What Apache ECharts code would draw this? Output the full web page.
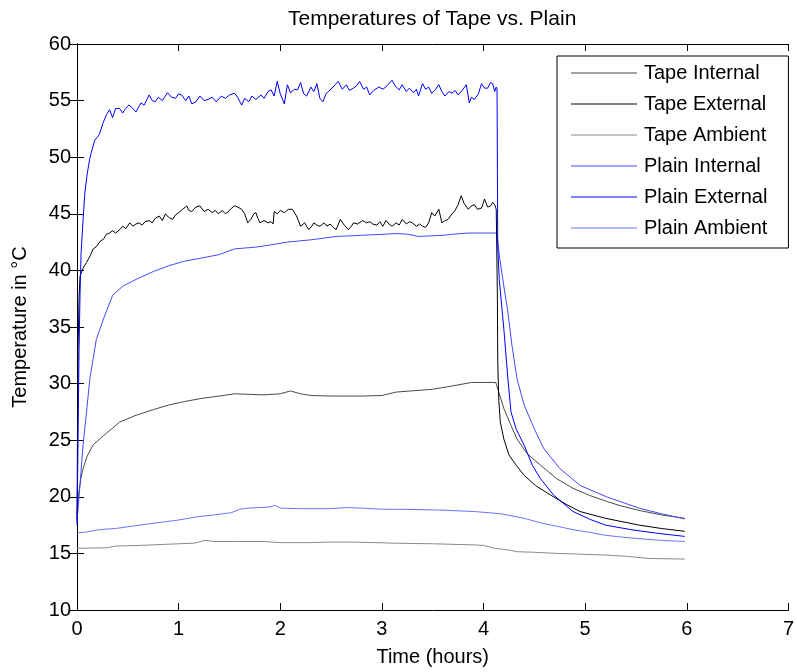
<!DOCTYPE html>
<html>
<head>
<meta charset="utf-8">
<script src="https://cdn.jsdelivr.net/npm/echarts@6/dist/echarts.min.js"></script>
<style>
html,body{margin:0;padding:0;background:#fff;}
#chart{width:797px;height:672px;}
</style>
</head>
<body>
<div id="chart"></div>
<script>
// ---- data (time in hours, temperature in °C) ----
const seriesNames = ['Tape Internal','Tape External','Tape Ambient','Plain Internal','Plain External','Plain Ambient'];
const xTicks = [0,1,2,3,4,5,6,7];
const yTicks = [10,15,20,25,30,35,40,45,50,55,60];

const tapeInternal = [
 [0,18.5],[0.02,20.5],[0.04,21.7],[0.06,22.5],[0.1,23.6],[0.16,24.6],[0.26,25.4],[0.42,26.6],[0.58,27.2],[0.75,27.7],
 [0.9,28.1],[1.05,28.4],[1.23,28.7],[1.4,28.9],[1.55,29.1],[1.7,29.05],[1.84,29.0],[2.0,29.1],[2.1,29.35],[2.2,29.1],
 [2.3,28.95],[2.5,28.9],[2.8,28.9],[3.0,28.95],[3.14,29.25],[3.5,29.5],[3.7,29.8],[3.88,30.1],[4.12,30.1],[4.13,30.1],
 [4.155,29.1],[4.2,27.8],[4.27,26.3],[4.33,25.1],[4.43,23.8],[4.56,22.8],[4.72,21.6],[4.88,20.75],[5.05,20.1],[5.21,19.6],
 [5.35,19.2],[5.53,18.8],[5.75,18.4],[5.98,18.1]
];

const tapeExternal = [
 [0,18],[0.01,33],[0.02,37.5],[0.03,39.5],[0.06,40.2],[0.094,40.7],[0.13,41.3],[0.16,41.9],[0.19,42.1],[0.23,42.6],
 [0.26,42.75],[0.29,43.2],[0.32,43.3],[0.35,43.5],[0.38,43.3],[0.42,43.6],[0.45,43.9],[0.48,43.7],[0.52,44.2],[0.55,43.9],
 [0.58,44.1],[0.61,44.2],[0.64,44.0],[0.67,44.3],[0.71,44.4],[0.74,44.2],[0.77,44.6],[0.81,44.8],[0.84,44.4],[0.87,45.0],
 [0.90,44.7],[0.94,44.5],[0.97,44.9],[1.00,45.1],[1.04,45.4],[1.08,45.7],[1.10,45.3],[1.13,45.2],[1.17,45.6],[1.21,45.7],
 [1.25,45.2],[1.29,45.4],[1.33,45.1],[1.36,45.3],[1.39,45.0],[1.43,45.3],[1.46,45.0],[1.49,45.2],[1.52,45.5],[1.55,45.7],
 [1.58,45.6],[1.62,45.4],[1.65,45.0],[1.68,44.2],[1.71,44.5],[1.74,45.0],[1.76,45.1],[1.78,44.6],[1.80,44.2],[1.84,44.4],
 [1.88,44.2],[1.91,44.3],[1.93,44.1],[1.94,45.2],[1.97,45.0],[2.00,45.3],[2.04,45.1],[2.08,45.4],[2.12,45.4],[2.16,44.8],
 [2.20,43.9],[2.24,44.2],[2.28,43.6],[2.31,43.9],[2.33,44.2],[2.36,44.0],[2.39,43.9],[2.43,44.2],[2.46,43.9],[2.49,44.1],
 [2.52,43.8],[2.55,43.6],[2.59,44.5],[2.63,44.0],[2.67,43.6],[2.70,43.9],[2.72,44.2],[2.76,44.1],[2.81,44.4],[2.85,44.2],
 [2.88,44.3],[2.91,44.1],[2.95,44.0],[2.98,44.3],[3.01,43.9],[3.04,44.4],[3.07,44.1],[3.10,43.9],[3.14,44.2],[3.17,44.0],
 [3.20,44.5],[3.24,44.1],[3.27,44.3],[3.30,44.2],[3.34,43.9],[3.37,44.1],[3.40,43.9],[3.43,43.8],[3.46,44.2],[3.49,45.1],
 [3.52,44.8],[3.56,45.4],[3.59,44.2],[3.62,44.4],[3.65,44.5],[3.69,45.0],[3.72,45.3],[3.75,45.8],[3.78,46.6],[3.81,45.9],
 [3.85,45.4],[3.88,45.7],[3.91,45.8],[3.94,45.4],[3.98,45.5],[4.01,46.3],[4.04,45.6],[4.07,45.7],[4.09,46.0],[4.11,45.8],
 [4.125,45.4],[4.133,45.4],[4.136,38],[4.14,32],[4.15,28.5],[4.165,26.6],[4.2,25.1],[4.25,23.7],[4.32,22.8],[4.40,21.9],
 [4.51,21.0],[4.66,20.15],[4.82,19.3],[4.95,18.7],[5.2,18.1],[5.53,17.5],[5.75,17.2],[5.98,16.95]
];

const tapeAmbient = [
 [0,15.45],[0.3,15.5],[0.38,15.65],[0.6,15.7],[0.87,15.8],[1.0,15.85],[1.15,15.9],[1.26,16.15],[1.35,16.05],[1.6,16.05],
 [1.84,16.05],[2.0,15.95],[2.3,15.95],[2.49,16.0],[2.7,16.0],[2.95,15.95],[3.14,15.9],[3.5,15.85],[3.91,15.75],[4.0,15.7],
 [4.11,15.45],[4.25,15.3],[4.33,15.15],[4.5,15.1],[4.72,15.0],[4.9,14.95],[5.2,14.85],[5.4,14.75],[5.63,14.55],[5.98,14.5]
];

const plainInternal = [
 [0,17.8],[0.02,20],[0.04,22.3],[0.06,24.6],[0.094,27.5],[0.126,30.4],[0.19,33.9],[0.26,35.7],[0.35,37.8],[0.45,38.6],
 [0.58,39.2],[0.75,39.9],[0.9,40.4],[1.05,40.8],[1.23,41.1],[1.4,41.4],[1.55,41.9],[1.75,42.05],[1.87,42.2],[2.07,42.5],
 [2.3,42.7],[2.55,43.0],[2.8,43.1],[3.14,43.25],[3.25,43.2],[3.36,43.0],[3.6,43.1],[3.7,43.2],[3.85,43.3],[4.13,43.3],
 [4.16,41],[4.2,38.6],[4.24,36.3],[4.28,33.35],[4.33,30.4],[4.40,28.1],[4.50,26.0],[4.59,24.3],[4.75,22.5],[4.95,21.0],
 [5.21,20.0],[5.53,19.0],[5.75,18.5],[5.98,18.05]
];

const plainExternal = [
 [0,17.5],[0.01,25],[0.02,33],[0.03,38],[0.04,41.5],[0.06,44.5],[0.078,46.9],[0.1,48.5],[0.126,49.9],[0.14,50.4],
 [0.175,51.5],[0.22,52.0],[0.255,53.0],[0.29,53.75],[0.32,54.2],[0.35,53.5],[0.38,54.3],[0.42,54.3],[0.45,53.9],[0.47,54.2],
 [0.51,54.6],[0.54,54.4],[0.58,54.0],[0.63,54.8],[0.66,54.6],[0.71,55.5],[0.74,55.0],[0.77,54.9],[0.80,55.3],[0.84,55.0],
 [0.89,55.7],[0.93,55.3],[0.97,55.2],[1.00,55.6],[1.03,55.5],[1.07,55.0],[1.10,55.4],[1.13,54.7],[1.17,54.9],[1.21,55.4],
 [1.25,55.0],[1.29,55.1],[1.33,55.3],[1.37,54.9],[1.42,55.4],[1.46,55.2],[1.50,55.5],[1.55,55.65],[1.58,55.3],[1.62,54.6],
 [1.65,55.2],[1.69,54.9],[1.72,55.4],[1.76,55.1],[1.81,55.5],[1.84,55.2],[1.88,55.8],[1.91,55.95],[1.94,55.4],[1.97,56.7],
 [2.00,55.6],[2.04,54.7],[2.07,56.4],[2.10,55.7],[2.14,56.0],[2.17,55.95],[2.20,56.6],[2.23,55.6],[2.26,55.4],[2.30,56.2],
 [2.33,55.8],[2.36,56.5],[2.39,55.2],[2.42,54.9],[2.45,55.6],[2.49,55.95],[2.53,56.3],[2.57,56.7],[2.61,56.0],[2.65,56.4],
 [2.68,55.9],[2.72,56.1],[2.75,56.3],[2.78,56.7],[2.82,56.0],[2.85,56.2],[2.88,55.5],[2.92,55.9],[2.97,56.2],[3.01,56.0],
 [3.05,56.3],[3.10,56.8],[3.13,56.3],[3.17,55.95],[3.20,56.4],[3.24,55.8],[3.27,56.1],[3.31,55.7],[3.34,56.0],[3.36,55.4],
 [3.40,56.5],[3.43,56.0],[3.46,56.2],[3.49,55.65],[3.52,55.9],[3.56,56.4],[3.59,55.8],[3.62,55.4],[3.66,55.8],[3.69,55.65],
 [3.72,55.9],[3.75,55.5],[3.79,55.9],[3.83,56.4],[3.86,54.8],[3.88,55.3],[3.91,55.1],[3.95,55.6],[3.98,56.5],[4.01,56.1],
 [4.04,56.1],[4.07,56.6],[4.09,56.5],[4.11,55.8],[4.125,56.2],[4.133,56.0],[4.14,42],[4.155,39.2],[4.2,34.8],[4.24,30.4],
 [4.27,27.5],[4.32,26.0],[4.40,24.55],[4.48,22.8],[4.56,21.6],[4.69,20.15],[4.88,18.7],[5.05,18.0],[5.2,17.5],[5.45,17.1],
 [5.69,16.8],[5.98,16.5]
];

const plainAmbient = [
 [0,16.8],[0.1,16.9],[0.22,17.1],[0.38,17.2],[0.54,17.4],[0.7,17.6],[0.87,17.8],[1.0,17.95],[1.19,18.25],[1.35,18.4],
 [1.52,18.6],[1.6,18.9],[1.68,19.0],[1.8,19.05],[1.9,19.1],[1.95,19.25],[2.0,19.0],[2.2,18.95],[2.49,18.95],[2.65,19.05],
 [2.8,19.0],[3.0,18.9],[3.14,18.9],[3.5,18.85],[3.91,18.7],[4.17,18.5],[4.4,18.1],[4.56,17.7],[4.72,17.4],[4.88,17.1],
 [5.05,16.85],[5.2,16.6],[5.35,16.45],[5.53,16.3],[5.75,16.15],[5.98,16.05]
];

const seriesData = [tapeInternal, tapeExternal, tapeAmbient, plainInternal, plainExternal, plainAmbient];
const seriesColors = ['#4a4a4a','#000000','#8a8a8a','#4646ff','#0000ff','#7070ff'];

// ---- chart ----
const chart = echarts.init(document.getElementById('chart'), null, {renderer:'canvas'});
const font = 'Arial, "Liberation Sans", Helvetica, sans-serif';
const tickAxisCommon = {
  axisLine:{show:true, lineStyle:{color:'#000', width:1}},
  axisTick:{show:true, inside:true, length:7, lineStyle:{color:'#000', width:1}},
  splitLine:{show:false}
};
const option = {
  backgroundColor:'#fff',
  animation:false,
  title:{
    text:'Temperatures of Tape vs. Plain',
    left:288, top:9, padding:0,
    textStyle:{fontFamily:font, fontSize:21, fontWeight:'normal', color:'#000'}
  },
  legend:{
    orient:'vertical',
    left:557, top:56,
    data:seriesNames.map(n => ({name:n, icon:'rect'})),
    backgroundColor:'#fff',
    borderColor:'#000', borderWidth:1,
    padding:[7,21,10,14],
    itemWidth:66, itemHeight:1, itemGap:11,
    textStyle:{fontFamily:font, fontSize:20, color:'#000', lineHeight:20, padding:[0,0,0,2]}
  },
  grid:{left:77, top:44, right:-1, bottom:60, containLabel:false},
  xAxis:[
    Object.assign({
      type:'value', min:xTicks[0], max:xTicks[xTicks.length-1], interval:1, position:'bottom',
      name:'Time (hours)', nameLocation:'middle', nameGap:37,
      nameTextStyle:{fontFamily:font, fontSize:20, color:'#000'},
      axisLabel:{fontFamily:font, fontSize:20, color:'#000', margin:9}
    }, tickAxisCommon),
    Object.assign({
      type:'value', min:xTicks[0], max:xTicks[xTicks.length-1], interval:1, position:'top',
      axisLabel:{show:false}
    }, tickAxisCommon)
  ],
  yAxis:[
    Object.assign({
      type:'value', min:yTicks[0], max:yTicks[yTicks.length-1], interval:5, position:'left',
      name:'Temperature in °C', nameLocation:'middle', nameGap:47,
      nameTextStyle:{fontFamily:font, fontSize:20, color:'#000'},
      axisLabel:{fontFamily:font, fontSize:20, color:'#000', margin:6}
    }, tickAxisCommon),
    Object.assign({
      type:'value', min:yTicks[0], max:yTicks[yTicks.length-1], interval:5, position:'right',
      axisLabel:{show:false}
    }, tickAxisCommon)
  ],
  series: seriesNames.map((name, i) => ({
    name: name,
    type:'line',
    xAxisIndex:0, yAxisIndex:0,
    data: seriesData[i],
    symbol:'none',
    showSymbol:false,
    smooth:false,
    color: seriesColors[i],
    lineStyle:{color:seriesColors[i], width:1},
    z: (name === 'Plain External' || name === 'Tape External') ? 3 : 2
  }))
};
chart.setOption(option);
</script>
</body>
</html>
